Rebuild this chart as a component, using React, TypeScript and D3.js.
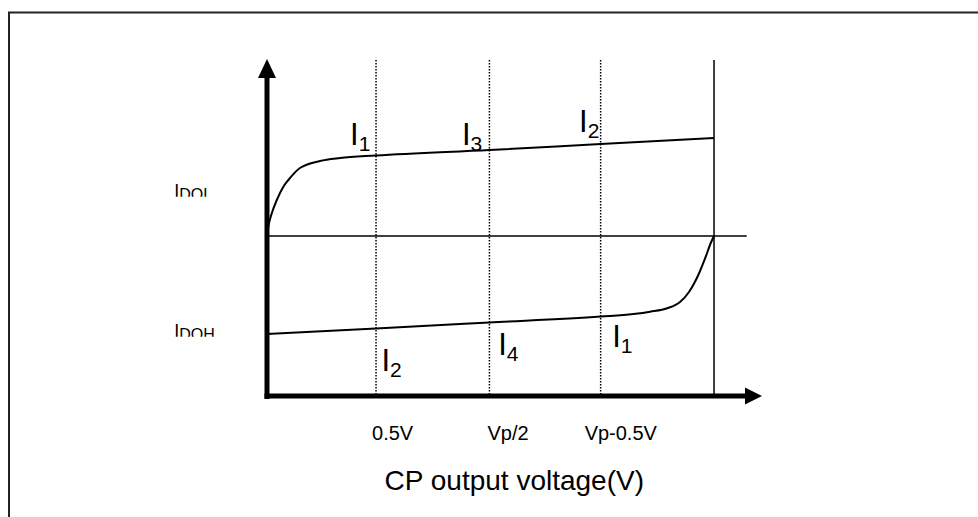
import React from "react";
import * as d3 from "d3";

// charge pump output current vs. CP output voltage
const vp = 2.05;
const tickValues = [0.5, 1.02, 1.53];
const tickLabels = ["0.5V", "Vp/2", "Vp-0.5V"];
const tickLabelShift = [-4, -2, -16];

const idolV = [0, 0.006, 0.022, 0.045, 0.075, 0.098, 0.151, 0.243, 0.335, 0.5, 1.02, 1.53, 2.05];
const idolI = [0, 0.093, 0.227, 0.36, 0.493, 0.56, 0.68, 0.75, 0.78, 0.805, 0.86, 0.92, 0.98];
const idohV = [0, 0.5, 1.02, 1.53, 1.68, 1.757, 1.835, 1.894, 1.936, 1.982, 2.012, 2.035, 2.05];
const idohI = [-0.98, -0.925, -0.865, -0.805, -0.78, -0.757, -0.723, -0.66, -0.557, -0.37, -0.207, -0.07, 0];

const pointNames = ["1", "3", "2", "2", "4", "1"];
const pointV = [0.381, 0.894, 1.431, 0.525, 1.06, 1.583];
const pointI = [0.91, 0.91, 1.04, -1.35, -1.19, -1.11];

const sideNames = ["DOL", "DOH"];
const sideI = [0.393, -1.007];

const width = 978;
const height = 517;
const font = "'Liberation Sans', Arial, sans-serif";

export default function App() {
  const x = d3.scaleLinear().domain([0, 2.27]).range([267, 762]);
  const y = d3.scaleLinear().domain([-1.6, 1.77]).range([396, 59]);

  const line = d3
    .line<[number, number]>()
    .x((d) => x(d[0]))
    .y((d) => y(d[1]))
    .curve(d3.curveMonotoneX);

  const idol = idolV.map((v, i) => [v, idolI[i]] as [number, number]);
  const idoh = idohV.map((v, i) => [v, idohI[i]] as [number, number]);

  const x0 = x(0);
  const xEnd = x.range()[1];
  const yTop = y.range()[1];
  const yBot = y.range()[0];
  const lineTop = yTop + 1;

  return (
    <svg
      width={width}
      height={height}
      style={{ position: "absolute", left: 0, top: 0, display: "block" }}
      fontFamily={font}
    >
      <rect width={width} height={height} fill="white" />
      {/* frame */}
      <rect x={9} y={12.5} width={1200} height={800} fill="none" stroke="#222" strokeWidth={2} />

      <defs>
        {sideI.map((v, i) => (
          <clipPath id={`cut${i}`} key={i}>
            <rect x={0} y={0} width={width} height={y(v)} />
          </clipPath>
        ))}
      </defs>

      {/* dotted guide lines */}
      <g stroke="black" strokeWidth={1.5} strokeDasharray="1.5 1.5">
        {tickValues.map((t, i) => (
          <line key={i} x1={x(t)} x2={x(t)} y1={lineTop} y2={yBot} />
        ))}
      </g>
      {/* Vp line */}
      <line x1={x(vp)} x2={x(vp)} y1={lineTop} y2={yBot} stroke="black" strokeWidth={1.5} />
      {/* zero current line */}
      <line x1={x0} x2={x(2.2)} y1={y(0)} y2={y(0)} stroke="black" strokeWidth={1.5} />

      {/* curves */}
      <path d={line(idol) || ""} fill="none" stroke="black" strokeWidth={2} />
      <path d={line(idoh) || ""} fill="none" stroke="black" strokeWidth={2} />

      {/* axes */}
      <line x1={x0} x2={x0} y1={yBot + 3} y2={yTop + 17} stroke="black" strokeWidth={5} />
      <path d={`M${x0},${yTop} L${x0 - 9},${yTop + 19} L${x0 + 9},${yTop + 19} Z`} fill="black" />
      <line x1={x0 - 2.5} x2={xEnd - 15} y1={yBot} y2={yBot} stroke="black" strokeWidth={5} />
      <path d={`M${xEnd},${yBot} L${xEnd - 17},${yBot - 8.5} L${xEnd - 17},${yBot + 8.5} Z`} fill="black" />

      {/* tick labels */}
      {tickValues.map((t, i) => (
        <text key={i} x={x(t) + tickLabelShift[i]} y={440} fontSize={20} fill="black">
          {tickLabels[i]}
        </text>
      ))}
      <text x={384.6} y={490} fontSize={28} fill="black">
        CP output voltage(V)
      </text>

      {/* current labels */}
      {pointNames.map((n, i) => (
        <text key={i} x={x(pointV[i])} y={y(pointI[i])} fontSize={31} fill="black">
          I
          <tspan fontSize={21} dy={6}>
            {n}
          </tspan>
        </text>
      ))}

      {sideNames.map((n, i) => (
        <text
          key={i}
          x={174.3}
          y={y(sideI[i])}
          fontSize={18}
          fill="black"
          clipPath={`url(#cut${i})`}
        >
          I
          <tspan fontSize={16} dy={3.6}>
            {n}
          </tspan>
        </text>
      ))}
    </svg>
  );
}
